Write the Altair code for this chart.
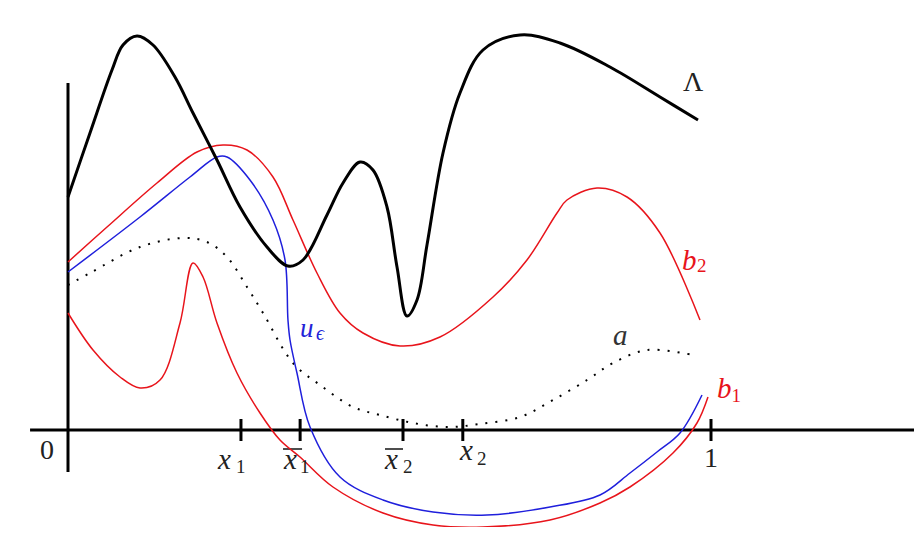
import altair as alt
import pandas as pd

# ---- curve data (x in [0,1] units, y in arbitrary units) ----
lam_x = [0, 0.0342, 0.0684, 0.0855, 0.1073, 0.1322, 0.1664, 0.1944, 0.2317, 0.2675, 0.3095, 0.3421,
         0.3655, 0.4028, 0.4277, 0.4541, 0.4743, 0.4961, 0.5117, 0.5272, 0.5428, 0.5583, 0.5832,
         0.6096, 0.6454, 0.7030, 0.7652, 0.8429, 0.9207, 0.9798]
lam_y = [2.33, 2.97, 3.60, 3.85, 3.94, 3.85, 3.53, 3.17, 2.70, 2.23, 1.83, 1.64,
         1.70, 2.15, 2.47, 2.68, 2.60, 2.23, 1.63, 1.14, 1.30, 1.85, 2.77,
         3.37, 3.80, 3.95, 3.87, 3.63, 3.33, 3.10]

b2_x = [0, 0.0607, 0.1384, 0.2006, 0.2411, 0.2784, 0.3188, 0.3499, 0.3872, 0.4230, 0.4588, 0.5163,
        0.5785, 0.6610, 0.7138, 0.7605, 0.7760, 0.8227, 0.8694, 0.9207, 0.9829]
b2_y = [1.68, 2.03, 2.47, 2.78, 2.85, 2.80, 2.53, 2.10, 1.57, 1.17, 0.97, 0.84,
        0.93, 1.33, 1.70, 2.17, 2.30, 2.42, 2.33, 1.97, 1.10]

u_x = [0, 0.112, 0.1897, 0.2317, 0.2473, 0.2830, 0.3188, 0.3375, 0.3421, 0.3453, 0.3561, 0.3764,
       0.4230, 0.4899, 0.5677, 0.6516, 0.7496, 0.8274, 0.8740, 0.9160, 0.9518, 0.9860]
u_y = [1.58, 2.13, 2.53, 2.73, 2.73, 2.50, 2.10, 1.70, 1.10, 0.90, 0.57, 0.03,
       -0.47, -0.70, -0.82, -0.85, -0.77, -0.65, -0.43, -0.22, -0.03, 0.35]

b1_x = [0, 0.0389, 0.0809, 0.112, 0.1431, 0.1742, 0.1944, 0.21, 0.2317, 0.2628, 0.2986, 0.3297,
        0.3608, 0.4121, 0.4899, 0.5677, 0.6454, 0.7496, 0.8274, 0.874, 0.9409, 0.9782, 0.9953]
b1_y = [1.17, 0.80, 0.53, 0.42, 0.50, 1.07, 1.67, 1.53, 1.07, 0.57, 0.17, -0.10,
        -0.27, -0.57, -0.83, -0.95, -0.97, -0.90, -0.73, -0.57, -0.23, 0.07, 0.33]

a_x = [0, 0.0342, 0.112, 0.1788, 0.2162, 0.2473, 0.2784, 0.3033, 0.3499, 0.3919, 0.4432, 0.4852,
       0.5365, 0.5894, 0.6407, 0.7030, 0.7543, 0.8072, 0.8476, 0.9005, 0.972]
a_y = [1.45, 1.57, 1.83, 1.92, 1.88, 1.73, 1.43, 1.17, 0.67, 0.45, 0.23, 0.15,
       0.07, 0.03, 0.06, 0.13, 0.30, 0.50, 0.67, 0.80, 0.75]

tick_x = [0.269, 0.361, 0.521, 0.614, 1.0]

# ---- labels ----
main_text = ["0", "x", "x", "x", "x", "1", "b", "a", "Λ", "b"]
main_x = [-0.0327, 0.2333, 0.3359, 0.493, 0.6096, 1.0, 1.0093, 0.8476, 0.9565, 0.9549]
main_y = [-0.29, -0.39, -0.39, -0.39, -0.30, -0.37, 0.32, 0.85, 3.39, 1.60]
main_col = ["#222", "#222", "#222", "#222", "#222", "#222", "#e8141b", "#333", "#222", "#e8141b"]
main_italic = [False, True, True, True, True, False, True, True, False, True]

sub_text = ["1", "1", "2", "2", "1", "2"]
sub_x = [0.2613, 0.3609, 0.5210, 0.6361, 1.0320, 0.9782]
sub_y = [-0.43, -0.43, -0.43, -0.35, 0.28, 1.58]
sub_col = ["#222", "#222", "#222", "#222", "#e8141b", "#e8141b"]

bar_x1 = [0.3344, 0.493]
bar_x2 = [0.364, 0.521]

xs = alt.Scale(domain=[-0.09331, 1.31571], nice=False, zero=False)
ys = alt.Scale(domain=[-0.97, 4.22], nice=False, zero=False)


def X(f="x"):
    return alt.X(f + ":Q", scale=xs, axis=None)


def Y(f="y"):
    return alt.Y(f + ":Q", scale=ys, axis=None)


def curve(xv, yv, color, width, dash=None):
    df = pd.DataFrame({"x": xv, "y": yv})
    kw = dict(interpolate="catmull-rom", color=color, strokeWidth=width, clip=False)
    if dash:
        kw["strokeDash"] = dash
    return alt.Chart(df).mark_line(**kw).encode(x=X(), y=Y(), order="x:Q")


axes_df = pd.DataFrame({"x": [-0.059, 0.0], "x2": [1.322, 0.0], "y": [0.0, -0.42], "y2": [0.0, 3.47]})
axes = alt.Chart(axes_df).mark_rule(color="black", strokeWidth=3).encode(
    x=X(), x2="x2:Q", y=Y(), y2="y2:Q")

ticks_df = pd.DataFrame({"x": tick_x, "y": [-0.11] * len(tick_x), "y2": [0.11] * len(tick_x)})
ticks = alt.Chart(ticks_df).mark_rule(color="black", strokeWidth=3).encode(
    x=X(), y=Y(), y2="y2:Q")

bars_df = pd.DataFrame({"x": bar_x1, "x2": bar_x2, "y": [-0.19, -0.19]})
bars = alt.Chart(bars_df).mark_rule(color="#222", strokeWidth=1.6).encode(
    x=X(), x2="x2:Q", y=Y())

main_df = pd.DataFrame({"t": main_text, "x": main_x, "y": main_y, "c": main_col,
                        "it": ["italic" if i else "normal" for i in main_italic]})
labels = []
for style in ["italic", "normal"]:
    d = main_df[main_df.it == style]
    for align in ["left", "center"]:
        if align == "center":
            dd = d[d.t.isin(["0", "1"])]
        else:
            dd = d[~d.t.isin(["0", "1"])]
        if len(dd) == 0:
            continue
        labels.append(alt.Chart(dd).mark_text(
            font="Liberation Serif", fontSize=29 if style == "italic" else 28,
            fontStyle=style, align=align,
            baseline="alphabetic").encode(x=X(), y=Y(), text="t:N",
                                          color=alt.Color("c:N", scale=None)))

sub_df = pd.DataFrame({"t": sub_text, "x": sub_x, "y": sub_y, "c": sub_col})
subs = alt.Chart(sub_df).mark_text(font="Liberation Serif", fontSize=19, align="left",
                                   baseline="alphabetic").encode(
    x=X(), y=Y(), text="t:N", color=alt.Color("c:N", scale=None))

u_df = pd.DataFrame({"t": ["u", "ϵ"], "x": [0.3608, 0.3857], "y": [0.93, 0.90], "s": [27, 20]})
ulab = alt.Chart(u_df).mark_text(font="Liberation Serif", fontStyle="italic", align="left",
                                 baseline="alphabetic", color="#2323d8").encode(
    x=X(), y=Y(), text="t:N", size=alt.Size("s:Q", scale=None, legend=None))

chart = alt.layer(
    axes, ticks, bars,
    curve(a_x, a_y, "black", 2, [2, 8]),
    curve(b1_x, b1_y, "#e8141b", 1.5),
    curve(b2_x, b2_y, "#e8141b", 1.5),
    curve(u_x, u_y, "#1f1fdc", 1.5),
    curve(lam_x, lam_y, "black", 3),
    *labels, subs, ulab,
).properties(width=906, height=519, padding=0, autosize="none").configure_view(stroke=None)

chart.save("out.html", embed_options={"renderer": "svg", "actions": False})
